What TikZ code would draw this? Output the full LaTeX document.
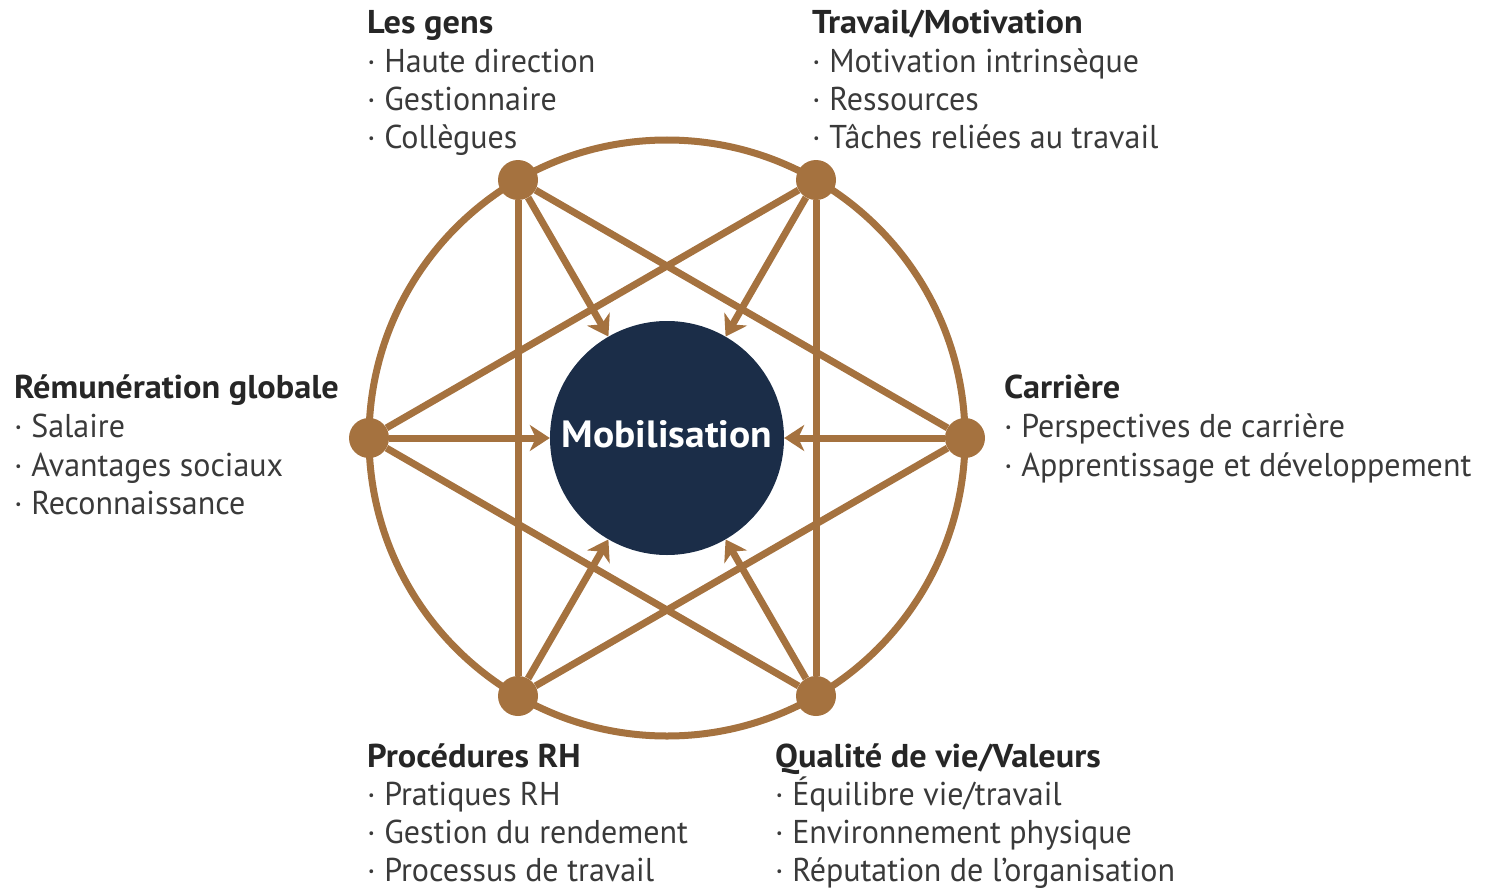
\documentclass[tikz,border=0pt]{standalone}
\usepackage{fontspec}
\setmainfont{PT Sans}[UprightFeatures={FakeStretch=0.97}, BoldFeatures={FakeStretch=1.04}]
\usetikzlibrary{arrows.meta}
\definecolor{bronze}{HTML}{A5723F}
\definecolor{navy}{HTML}{1B2D48}
\definecolor{ink}{HTML}{3A3A3A}
\definecolor{headink}{HTML}{262626}

\begin{document}
\begin{tikzpicture}[x=1pt,y=-1pt,
  link/.style={draw=bronze, line width=7pt},
  push/.style={link, -{Stealth[length=20pt,width=26pt,inset=6pt]}},
  hub/.style={circle, fill=bronze, minimum size=40pt, inner sep=0pt},
  core/.style={circle, fill=navy, minimum size=234pt, inner sep=0pt},
  item/.style={anchor=base west, inner sep=0pt, text=ink, font=\fontsize{33}{38}\selectfont},
  head/.style={item, text=headink, font=\fontsize{33}{38}\selectfont\bfseries},
]
\useasboundingbox (0,0) rectangle (1488,888);

% outer ring
\draw[link] (667,438) circle[radius=298pt];

% six factor hubs and the central disc
\node[hub] (tl) at (518,180) {};
\node[hub] (tr) at (816,180) {};
\node[hub] (r)  at (965,438) {};
\node[hub] (br) at (816,696) {};
\node[hub] (bl) at (518,696) {};
\node[hub] (l)  at (369,438) {};
\node[core] (mob) at (667,438) {};
\node[anchor=base, inner sep=0pt, text=white, font=\fontsize{38}{44}\selectfont\bfseries] (mobtext) at (667,447) {Mobilisation};

% two interlaced triangles
\draw[link] (tl) -- (r);
\draw[link] (r) -- (bl);
\draw[link] (bl) -- (tl);
\draw[link] (tr) -- (l);
\draw[link] (l) -- (br);
\draw[link] (br) -- (tr);

% every factor feeds the centre
\foreach \v in {tl,tr,r,br,bl,l}
  \draw[push] (\v) -- (mob);

% factor descriptions
\node[head] (gens) at (367,34) {Les gens};
\node[item] (gens1) at (367,73) {· Haute direction};
\node[item] (gens2) at (367,111) {· Gestionnaire};
\node[item] (gens3) at (367,149) {· Collègues};

\node[head] (trav) at (812,34) {Travail/Motivation};
\node[item] (trav1) at (812,73) {· Motivation intrinsèque};
\node[item] (trav2) at (812,111) {· Ressources};
\node[item] (trav3) at (812,149) {· Tâches reliées au travail};

\node[head] (remu) at (14,398) {Rémunération globale};
\node[item] (remu1) at (14,437) {· Salaire};
\node[item] (remu2) at (14,476) {· Avantages sociaux};
\node[item] (remu3) at (14,514) {· Reconnaissance};

\node[head] (carr) at (1004,398) {Carrière};
\node[item] (carr1) at (1004,437) {· Perspectives de carrière};
\node[item] (carr2) at (1004,476) {· Apprentissage et développement};

\node[head] (proc) at (367,767) {Procédures RH};
\node[item] (proc1) at (367,805) {· Pratiques RH};
\node[item] (proc2) at (367,843) {· Gestion du rendement};
\node[item] (proc3) at (367,881) {· Processus de travail};

\node[head] (qual) at (775,767) {Qualité de vie/Valeurs};
\node[item] (qual1) at (775,805) {· Équilibre vie/travail};
\node[item] (qual2) at (775,843) {· Environnement physique};
\node[item] (qual3) at (775,881) {· Réputation de l’organisation};
\end{tikzpicture}
\end{document}
